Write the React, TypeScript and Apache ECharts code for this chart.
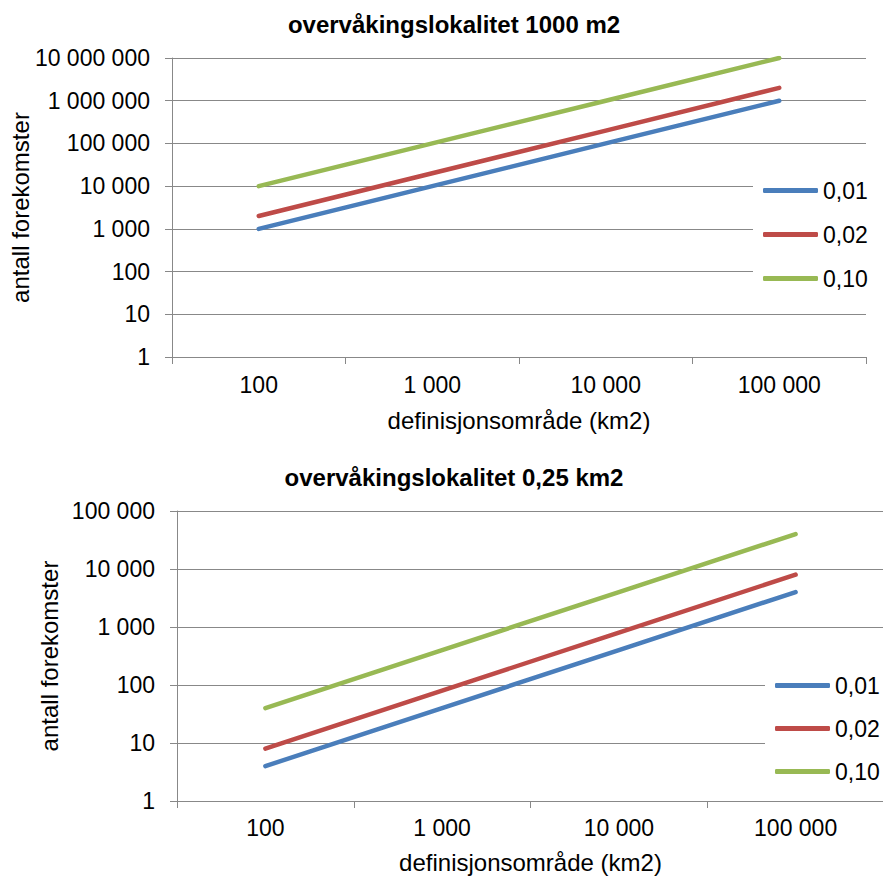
import React, { useEffect, useRef } from "react";
import * as echarts from "echarts";

const categories = ["100", "1 000", "10 000", "100 000"];
const seriesNames = ["0,01", "0,02", "0,10"];
const colors = ["#4A7EBB", "#BE4B48", "#98B954"];

const topTitle = "overvåkingslokalitet 1000 m2";
const bottomTitle = "overvåkingslokalitet 0,25 km2";
const xName = "definisjonsområde (km2)";
const yName = "antall forekomster";

const top001 = [1000, 10000, 100000, 1000000];
const top002 = [2000, 20000, 200000, 2000000];
const top010 = [10000, 100000, 1000000, 10000000];

const bot001 = [4, 40, 400, 4000];
const bot002 = [8, 80, 800, 8000];
const bot010 = [40, 400, 4000, 40000];

const topData = [top001, top002, top010];
const botData = [bot001, bot002, bot010];

const FONT = "Liberation Sans, Arial, sans-serif";
const GRID_COLOR = "#888888";

function fmt(v: number): string {
  const n = Math.round(v);
  return String(n).replace(/\B(?=(\d{3})+(?!\d))/g, " ");
}

export default function App() {
  const ref = useRef<HTMLDivElement>(null);
  useEffect(() => {
    if (!ref.current) return;
    const chart = echarts.init(ref.current, null, { renderer: "svg" });

    const xAxisCommon = (gridIndex: number, labelMargin: number, nameGap: number) => ({
      type: "category" as const,
      gridIndex,
      data: categories,
      boundaryGap: true,
      name: xName,
      nameLocation: "middle" as const,
      nameGap,
      nameMoveOverlap: false,
      nameTextStyle: { fontFamily: FONT, fontSize: 24, color: "#000" },
      axisLine: { show: true, lineStyle: { color: GRID_COLOR, width: 1 } },
      axisTick: { show: true, length: 7, lineStyle: { color: GRID_COLOR, width: 1 } },
      axisLabel: { fontFamily: FONT, fontSize: 23, color: "#000", margin: labelMargin },
      splitLine: { show: false },
    });

    const yAxisCommon = (gridIndex: number, max: number, nameGap: number) => ({
      type: "log" as const,
      logBase: 10,
      gridIndex,
      min: 1,
      max,
      interval: 1,
      name: yName,
      nameLocation: "middle" as const,
      nameGap,
      nameRotate: 90,
      nameMoveOverlap: false,
      nameTextStyle: { fontFamily: FONT, fontSize: 24, color: "#000" },
      axisLine: { show: true, lineStyle: { color: GRID_COLOR, width: 1 } },
      axisTick: { show: true, length: 7, lineStyle: { color: GRID_COLOR, width: 1 } },
      axisLabel: {
        fontFamily: FONT,
        fontSize: 23,
        color: "#000",
        margin: 22,
        formatter: (v: number) => fmt(v),
      },
      splitLine: { show: true, lineStyle: { color: GRID_COLOR, width: 1 } },
    });

    const mkSeries = (data: number[][], axisIndex: number) =>
      data.map((d, i) => ({
        name: seriesNames[i],
        type: "line" as const,
        xAxisIndex: axisIndex,
        yAxisIndex: axisIndex,
        data: d,
        symbol: "none",
        color: colors[i],
        lineStyle: { color: colors[i], width: 4.5, cap: "round" as const },
      }));

    const legendCommon = {
      orient: "vertical" as const,
      data: seriesNames,
      icon: "roundRect",
      itemWidth: 55,
      itemHeight: 5,
      backgroundColor: "#ffffff",
      selectedMode: false,
      textStyle: { fontFamily: FONT, fontSize: 23, color: "#000", lineHeight: 22 },
    };

    chart.setOption({
      animation: false,
      backgroundColor: "#ffffff",
      title: [
        {
          text: topTitle,
          left: 454,
          top: 12,
          textAlign: "center",
          padding: 0,
          textStyle: { fontFamily: FONT, fontSize: 24, fontWeight: "bold", color: "#000" },
        },
        {
          text: bottomTitle,
          left: 454,
          top: 465,
          textAlign: "center",
          padding: 0,
          textStyle: { fontFamily: FONT, fontSize: 24, fontWeight: "bold", color: "#000" },
        },
      ],
      grid: [
        { left: 172, top: 58, width: 694, height: 299, containLabel: false, outerBoundsMode: "none" },
        { left: 177, top: 511, width: 707, height: 290, containLabel: false, outerBoundsMode: "none" },
      ],
      xAxis: [xAxisCommon(0, 16, 51), xAxisCommon(1, 15, 49)],
      yAxis: [yAxisCommon(0, 10000000, 140), yAxisCommon(1, 100000, 116)],
      legend: [
        { ...legendCommon, itemGap: 21, left: 753, top: 169, padding: [10, 0, 10, 10] },
        { ...legendCommon, itemGap: 20, left: 765, top: 664, padding: [10, 20, 10, 10] },
      ],
      series: [...mkSeries(topData, 0), ...mkSeries(botData, 1)],
    });
    return () => chart.dispose();
  }, []);
  return (
    <div
      ref={ref}
      style={{ position: "absolute", left: 0, top: 0, width: 883, height: 877 }}
    />
  );
}
